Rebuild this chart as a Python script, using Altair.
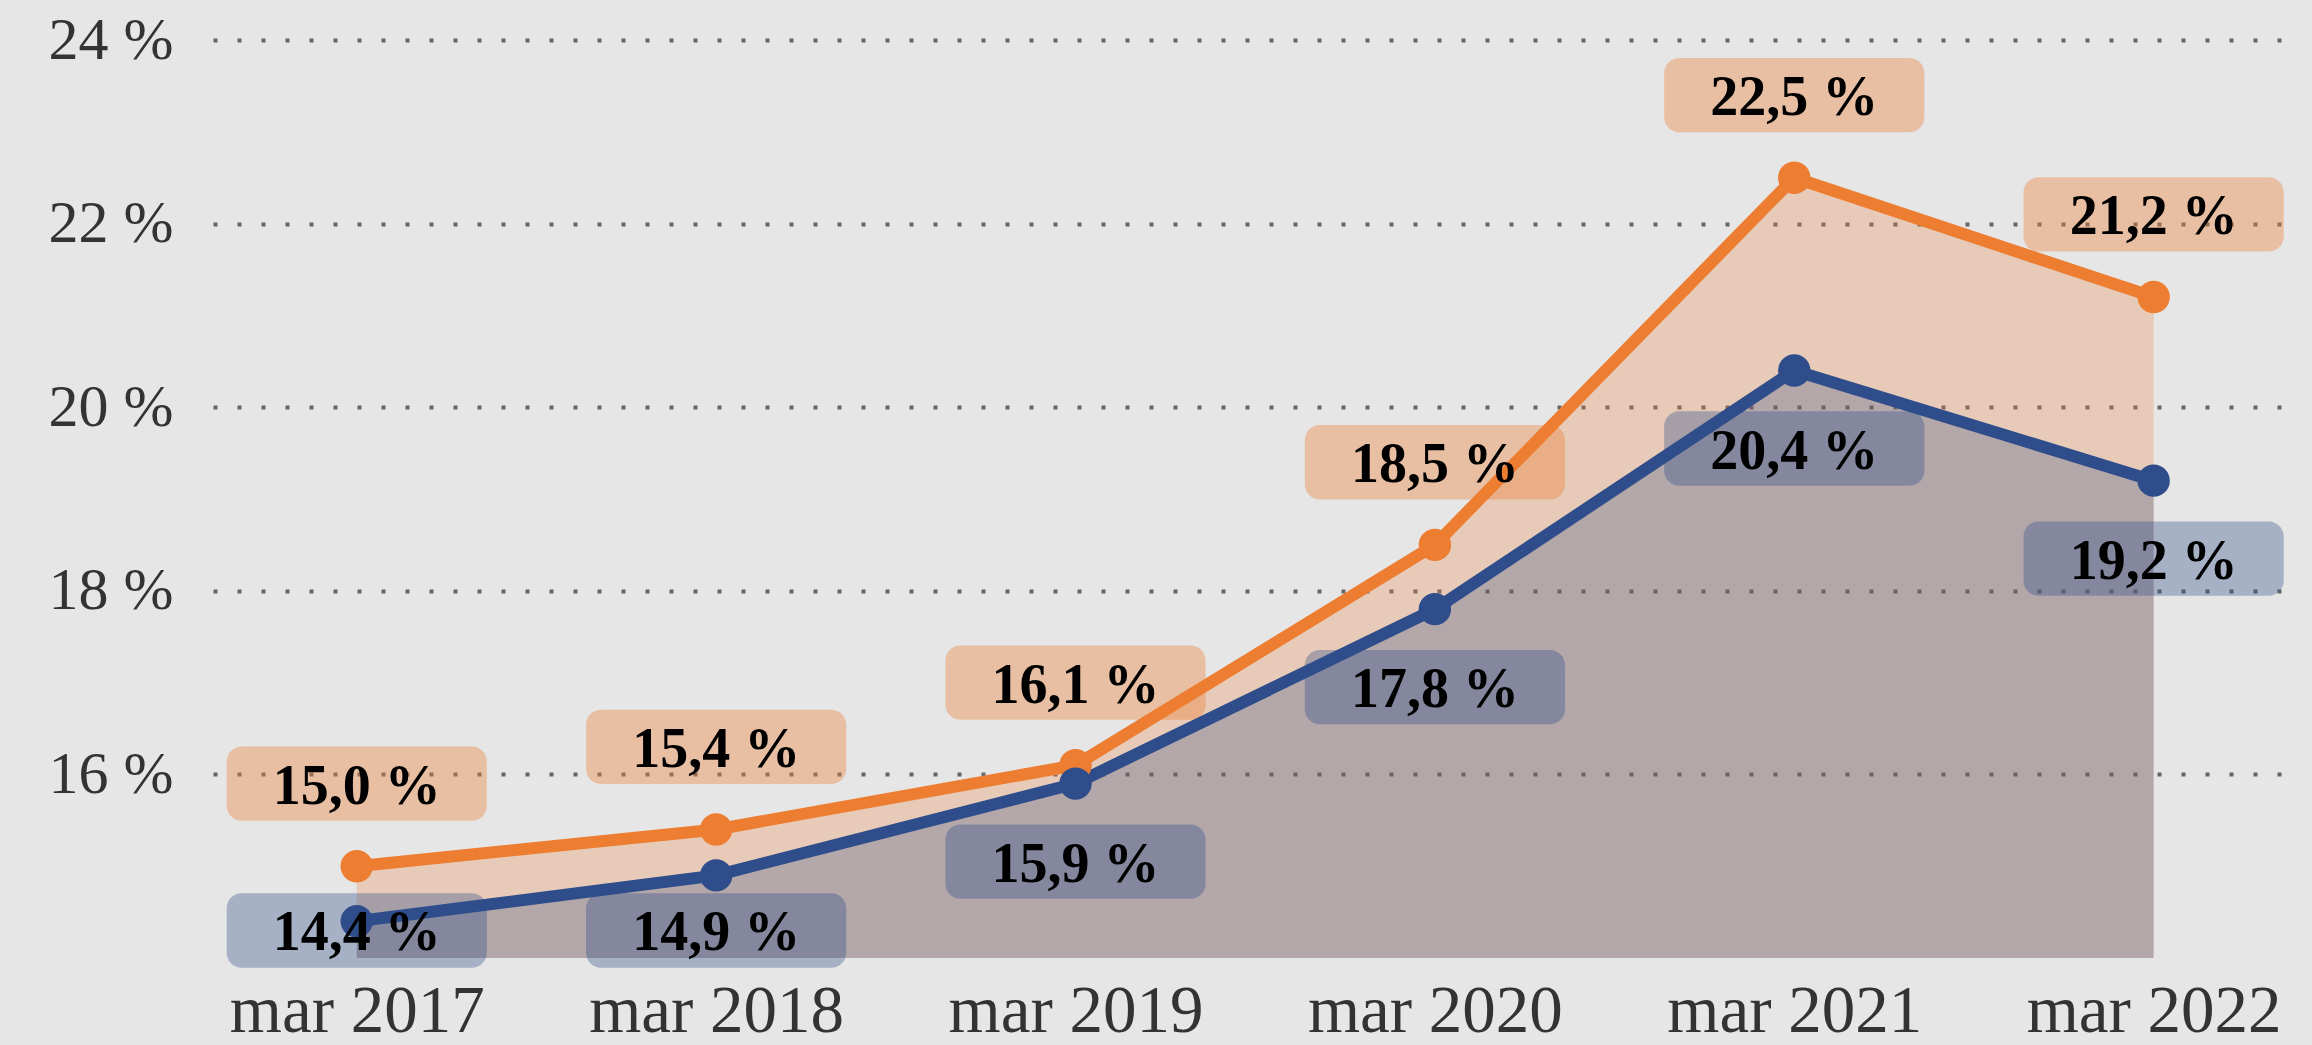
import json
import altair as alt
import pandas as pd

categories = ["mar 2017", "mar 2018", "mar 2019", "mar 2020", "mar 2021", "mar 2022"]
serie_orange = [15.0, 15.4, 16.1, 18.5, 22.5, 21.2]
serie_blue = [14.4, 14.9, 15.9, 17.8, 20.4, 19.2]
y_ticks = [16, 18, 20, 22, 24]

ORANGE = "#ED7D31"
BLUE = "#2F4D8A"
FONT = "Liberation Serif"

rows = []
for i, (c, vo, vb) in enumerate(zip(categories, serie_orange, serie_blue)):
    rows.append({"idx": i, "cat": c, "serie": "Serie 1", "value": vo,
                 "label": f"{vo:.1f}".replace(".", ",") + " %"})
    rows.append({"idx": i, "cat": c, "serie": "Serie 2", "value": vb,
                 "label": f"{vb:.1f}".replace(".", ",") + " %"})
df = pd.DataFrame(rows)

color_scale = alt.Scale(domain=["Serie 1", "Serie 2"], range=[ORANGE, BLUE])

x_enc = alt.X(
    "idx:Q",
    scale=alt.Scale(domain=[-0.4, 5.36], nice=False, zero=False),
    axis=alt.Axis(
        values=list(range(len(categories))),
        labelExpr=f"{json.dumps(categories)}[datum.value]",
        title=None, domain=False, ticks=False, grid=False,
        labelFont=FONT, labelFontSize=67, labelColor="#333333",
        labelPadding=20, labelFlush=False, labelOverlap=False, labelLimit=0,
    ),
)
y_scale = alt.Scale(domain=[14, 24], nice=False, zero=False)
y_enc = alt.Y(
    "value:Q",
    scale=y_scale,
    axis=alt.Axis(
        values=y_ticks,
        labelExpr="datum.value + ' %'",
        title=None, domain=False, ticks=False,
        grid=True, gridColor="#666666", gridWidth=4, gridDash=[4, 20], gridCap="butt",
        labelFont=FONT, labelFontSize=60, labelColor="#333333", labelPadding=40,
    ),
)

base = alt.Chart(df)

area_o = base.transform_filter("datum.serie == 'Serie 1'").mark_area(
    color=ORANGE, opacity=0.25
).encode(x=x_enc, y=y_enc, y2=alt.datum(14))

area_b = base.transform_filter("datum.serie == 'Serie 2'").mark_area(
    color=BLUE, opacity=0.28
).encode(x="idx:Q", y="value:Q", y2=alt.datum(14))

lab = base.transform_calculate(
    label_y="datum.serie == 'Serie 1' ? datum.value + 0.9 : max(datum.value - 0.85, 14.3)"
).transform_calculate(
    x1="datum.idx - 0.362", x2="datum.idx + 0.362",
    y1="datum.label_y - 0.405", y2="datum.label_y + 0.405",
)

boxes = lab.mark_rect(cornerRadius=15).encode(
    x="x1:Q", x2="x2:Q", y="y1:Q", y2="y2:Q",
    color=alt.Color("serie:N", scale=color_scale, legend=None),
    opacity=alt.Opacity("serie:N", scale=alt.Scale(domain=["Serie 1", "Serie 2"], range=[0.37, 0.35]), legend=None),
)

lines = base.mark_line(strokeWidth=12).encode(
    x="idx:Q", y="value:Q",
    color=alt.Color("serie:N", scale=color_scale, legend=None),
    detail="serie:N",
)
points = base.mark_point(filled=True, size=1050, opacity=1).encode(
    x="idx:Q", y="value:Q",
    color=alt.Color("serie:N", scale=color_scale, legend=None),
)
texts = lab.mark_text(font=FONT, fontWeight="bold", fontSize=56, color="#000000",
                      baseline="middle", dy=3).encode(
    x="idx:Q", y="label_y:Q", text="label:N",
)

chart = alt.layer(area_o, area_b, boxes, lines, points, texts).properties(
    width=2070, height=918,
    background="#E6E6E6",
    padding={"left": 213, "top": 40, "right": 29, "bottom": 87},
    autosize=alt.AutoSizeParams(type="none"),
).configure_view(stroke=None, fill="#E6E6E6")

chart.save("out.html", embed_options={"renderer": "svg", "actions": False})
